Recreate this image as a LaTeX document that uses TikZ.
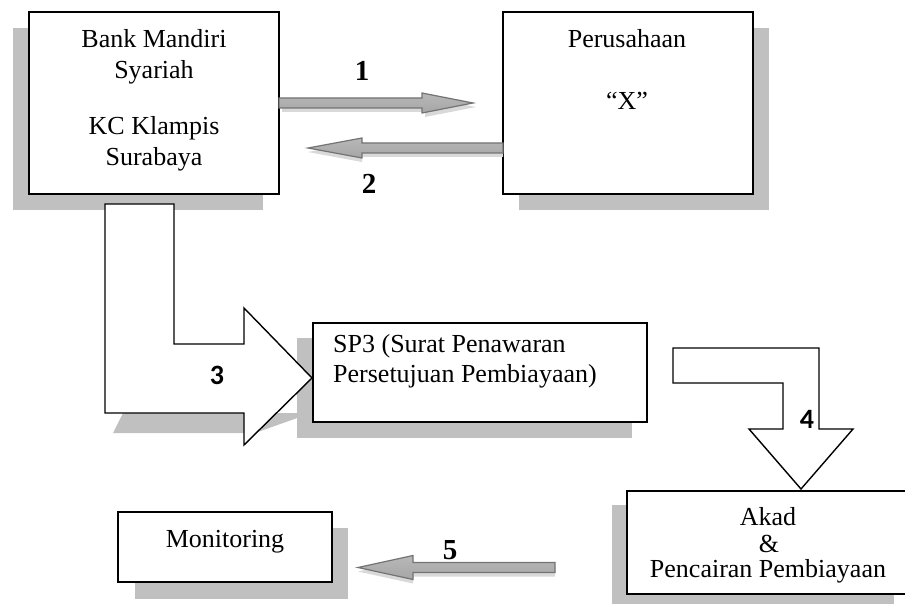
\documentclass[tikz,border=0pt]{standalone}
\usepackage{fontspec}
\setmainfont{Liberation Serif}
\newfontfamily\calib[BoldFont={Carlito Bold}]{Carlito}
\usetikzlibrary{calc}
\definecolor{shadowgray}{HTML}{C0C0C0}
\begin{document}
\begin{tikzpicture}[x=1pt,y=-1pt,
 box/.style={draw=black, line width=1.4pt, fill=white, inner sep=0pt, outer sep=0pt},
 shd/.style={fill=shadowgray, draw=none},
 txt/.style={font=\fontsize{26}{31}\selectfont, inner sep=0pt, anchor=base},
 num/.style={font=\fontsize{29}{34}\selectfont\bfseries, inner sep=0pt, anchor=base},
 snum/.style={font=\calib\fontsize{28}{32}\selectfont\bfseries, inner sep=0pt, anchor=base},
 fat/.style={draw=black!55, line width=1.2pt, top color=black!28, middle color=white, bottom color=black!35},
 fatshadow/.style={fill=black!15, draw=none},
 bent/.style={draw=black, line width=1.4pt, fill=white, line join=miter}]
\useasboundingbox (0,0) rectangle (905,604);
\fill[white] (0,0) rectangle (905,604);

% box shadows
\fill[shd] (13,28) rectangle (263,210);
\fill[shd] (519,28) rectangle (769,210);
\fill[shd] (297,338) rectangle (632,438);
\fill[shd] (612,505) rectangle (894,608);
\fill[shd] (135,528) rectangle (348,599);
% shadow of arrow 3
\fill[shd] (123,413) -- (113,433) -- (255,433) -- (300,417) -- (300,413) -- cycle;

% boxes
\node[box, minimum width=250pt, minimum height=182pt] (bank) at (154,103) {};
\node[box, minimum width=250pt, minimum height=182pt] (per) at (628,103) {};
\node[box, minimum width=214pt, minimum height=70pt] (mon) at (225,547) {};

% bent arrow 3
\path[bent] (105,204) -- (174,204) -- (174,344) -- (244,344) -- (244,308)
  -- (312,378) -- (244,445) -- (244,413) -- (105,413) -- cycle;
% bent arrow 4
\path[bent] (673,348) -- (819,348) -- (819,429) -- (853,429) -- (801,489)
  -- (749,429) -- (783,429) -- (783,383) -- (673,383) -- cycle;

\node[box, minimum width=334pt, minimum height=99pt] (sp3) at (480,372.5) {};
\node[box, minimum width=290pt, minimum height=103pt] (akad) at (772,542.5) {};

% texts
\node[txt] (t1) at (154,48) {Bank Mandiri};
\node[txt] (t2) at (154,79) {Syariah};
\node[txt] (t3) at (154,135) {KC Klampis};
\node[txt] (t4) at (154,166) {Surabaya};
\node[txt] (t5) at (627,48) {Perusahaan};
\node[txt] (t6) at (627,110) {``X''};
\node[txt, anchor=base west] (t7) at (333,352) {SP3 (Surat Penawaran};
\node[txt, anchor=base west] (t8) at (333,382) {Persetujuan Pembiayaan)};
\node[txt] (t9) at (768,525) {Akad};
\node[txt] (t10) at (769,552) {\&};
\node[txt] (t11) at (768,577) {Pencairan Pembiayaan};
\node[txt] (t12) at (225,547) {Monitoring};

% fat arrows 1, 2, 5
\coordinate (a1s) at (bank.east);
\coordinate (a2s) at ($(per.west)+(0,45)$);
\coordinate (a5s) at ($(akad.west)+(-72,25)$);

\fill[fatshadow] ([shift={(3,4)}]a1s) ++(0,-5) -- ++(143,0) -- ++(0,-5) -- ++(51,10) -- ++(-51,10) -- ++(0,-5) -- ++(-143,0) -- cycle;
\path[fat] (a1s) ++(0,-5) -- ++(143,0) -- ++(0,-5) -- ++(51,10) -- ++(-51,10) -- ++(0,-5) -- ++(-143,0) -- cycle;

\fill[fatshadow] ([shift={(0,4)}]a2s) ++(0,-5) -- ++(-141,0) -- ++(0,-5) -- ++(-54,10) -- ++(54,10) -- ++(0,-5) -- ++(141,0) -- cycle;
\path[fat] (a2s) ++(0,-5) -- ++(-141,0) -- ++(0,-5) -- ++(-54,10) -- ++(54,10) -- ++(0,-5) -- ++(141,0) -- cycle;

\fill[fatshadow] ([shift={(0,4)}]a5s) ++(0,-5) -- ++(-142,0) -- ++(0,-7) -- ++(-55,12) -- ++(55,12) -- ++(0,-7) -- ++(142,0) -- cycle;
\path[fat] (a5s) ++(0,-5) -- ++(-142,0) -- ++(0,-7) -- ++(-55,12) -- ++(55,12) -- ++(0,-7) -- ++(142,0) -- cycle;

% numbers
\node[num] (n1) at (362,81) {1};
\node[num] (n2) at (369,194) {2};
\node[snum] (n3) at (217,384) {3};
\node[snum] (n4) at (807,428) {4};
\node[num] (n5) at (450,559) {5};
\end{tikzpicture}
\end{document}
